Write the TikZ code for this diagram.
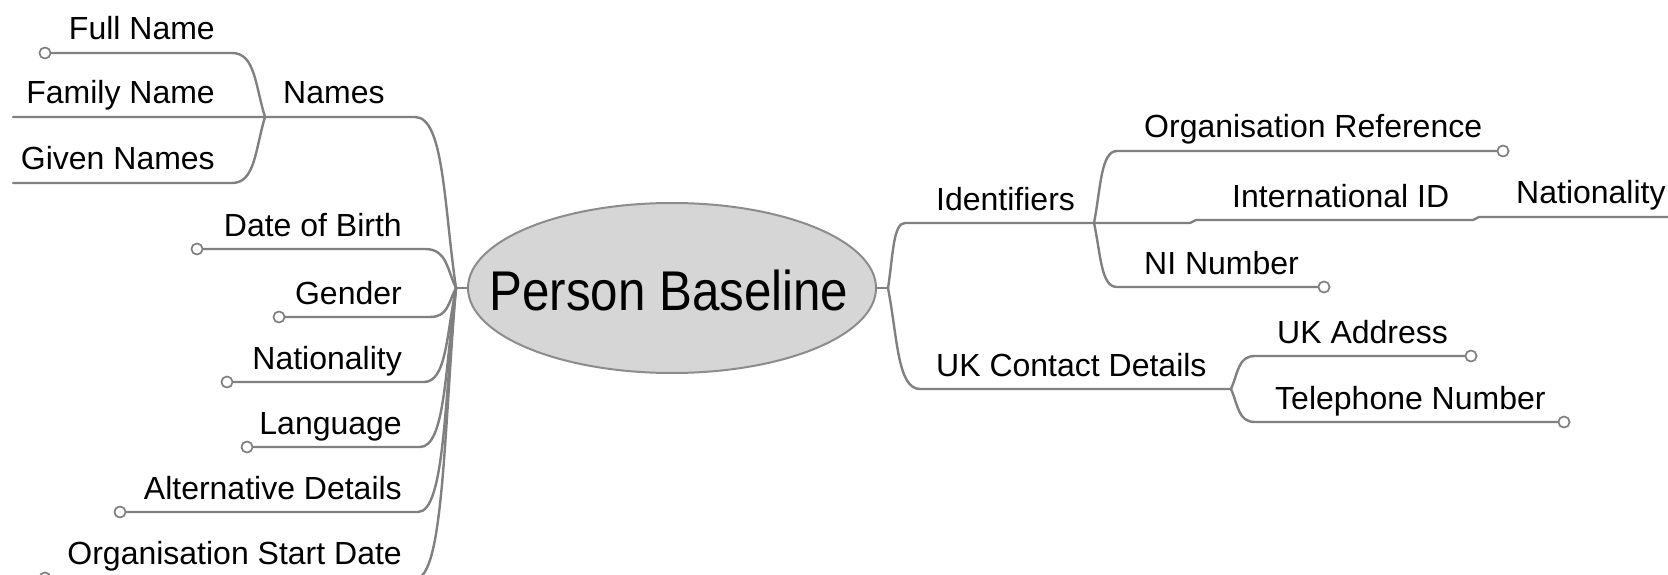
\documentclass[tikz,border=0pt]{standalone}
\usepackage{fontspec}
\setmainfont{Liberation Sans}
\newfontfamily\centerfont[FakeStretch=0.88]{Liberation Sans}
\usetikzlibrary{calc,shapes.geometric}
\definecolor{linegray}{RGB}{128,128,128}
\definecolor{ellfill}{RGB}{214,214,214}
\definecolor{ellline}{RGB}{140,140,140}
\begin{document}
\begin{tikzpicture}[x=1pt,y=-1pt,line cap=round,line join=round,
  conn/.style={draw=linegray,line width=2.4pt},
  lbl/.style={inner sep=0pt,font=\fontsize{32}{38}\selectfont},
  lblL/.style={lbl,anchor=base east},
  lblR/.style={lbl,anchor=base west},
  leafdot/.style={circle,draw=linegray,fill=white,line width=1.6pt,minimum size=11pt,inner sep=0pt},
  centre/.style={ellipse,draw=ellline,fill=ellfill,line width=2pt,minimum width=408pt,minimum height=170pt,inner sep=0pt},
  branch/.style={to path={let \p1=(\tikztostart), \p2=(\tikztotarget) in
     .. controls ({\x1+0.3*(\x2-\x1)},{0.5*(\y1+\y2)}) and ({\x1+0.3*(\x2-\x1)},\y2) .. (\tikztotarget)}}
]
\fill[white] (0,0) rectangle (1668,575);
\useasboundingbox (0,0) rectangle (1668,575);
\clip (0,0) rectangle (1668,575);

% central topic (drawn first, lines join at its edge)
\node[centre] (core) at (672,288) {};

% hubs
\coordinate (hubL) at (456,288);
\coordinate (hubR) at (888,288);

% left side coordinates
\coordinate (namesE) at (415,117);
\coordinate (namesJ) at (265,117);
\coordinate (fullE) at (232,53);
\coordinate (familyS) at (13,117);
\coordinate (givenE) at (232,183);
\coordinate (givenS) at (13,183);
\coordinate (dobE) at (425,249);
\coordinate (genderE) at (430,317);
\coordinate (natE) at (424,382);
\coordinate (langE) at (420,447);
\coordinate (altE) at (418,512);
\coordinate (orgsE) at (415,579);

% right side coordinates
\coordinate (identE) at (905,223);
\coordinate (identJ) at (1094,223);
\coordinate (identK) at (1190,223);
\coordinate (intlS) at (1196,220);
\coordinate (intlE) at (1473,220);
\coordinate (natRS) at (1479,217);
\coordinate (natRE) at (1668,217);
\coordinate (orgrefE) at (1117,151);
\coordinate (niE) at (1117,287);
\coordinate (ukE) at (920,389);
\coordinate (ukJ) at (1231,389);
\coordinate (addrE) at (1255,356);
\coordinate (telE) at (1255,422);

% leaf circles
\node[leafdot] (fullC) at (45,53) {};
\node[leafdot] (dobC) at (197,249) {};
\node[leafdot] (genderC) at (279,317) {};
\node[leafdot] (natC) at (227,382) {};
\node[leafdot] (langC) at (247,447) {};
\node[leafdot] (altC) at (120,512) {};
\node[leafdot] (orgsC) at (45,578) {};
\node[leafdot] (orgrefC) at (1503,151) {};
\node[leafdot] (niC) at (1324,287) {};
\node[leafdot] (addrC) at (1471,356) {};
\node[leafdot] (telC) at (1564,422) {};

% hub stubs
\draw[conn] (core.west) -- (hubL);
\draw[conn] (core.east) -- (hubR);

% connectors (left)
\draw[conn] (hubL) to[branch] (namesE) -- (namesJ) -- (familyS);
\draw[conn] (namesJ) to[branch] (fullE) -- (fullC.east);
\draw[conn] (namesJ) to[branch] (givenE) -- (givenS);
\draw[conn] (hubL) to[branch] (dobE) -- (dobC.east);
\draw[conn] (hubL) to[branch] (genderE) -- (genderC.east);
\draw[conn] (hubL) to[branch] (natE) -- (natC.east);
\draw[conn] (hubL) to[branch] (langE) -- (langC.east);
\draw[conn] (hubL) to[branch] (altE) -- (altC.east);
\draw[conn] (hubL) to[branch] (orgsE) -- (orgsC.east);

% connectors (right)
\draw[conn] (hubR) to[branch] (identE) -- (identJ) -- (identK) -- (intlS) -- (intlE) -- (natRS) -- (natRE);
\draw[conn] (identJ) to[branch] (orgrefE) -- (orgrefC.west);
\draw[conn] (identJ) to[branch] (niE) -- (niC.west);
\draw[conn] (hubR) to[branch] (ukE) -- (ukJ);
\draw[conn] (ukJ) to[branch] (addrE) -- (addrC.west);
\draw[conn] (ukJ) to[branch] (telE) -- (telC.west);

% circles on top
\foreach \c in {fullC,dobC,genderC,natC,langC,altC,orgsC,orgrefC,niC,addrC,telC}
  \draw[draw=linegray,fill=white,line width=1.6pt] (\c) circle (5.5pt);

% central text
\node[inner sep=0pt,anchor=base,font=\centerfont\fontsize{56}{60}\selectfont] (coretext) at (669,310) {Person Baseline};

% labels (left)
\node[lblL] (fullL) at (215,40) {Full Name};
\node[lblL] (familyL) at (215,104) {Family Name};
\node[lblL] (givenL) at (215,170) {Given Names};
\node[lblR] (namesL) at (283,104) {Names};
\node[lblL] (dobL) at (402,236) {Date of Birth};
\node[lblL] (genderL) at (402,304) {Gender};
\node[lblL] (natL) at (402,369) {Nationality};
\node[lblL] (langL) at (402,434) {Language};
\node[lblL] (altL) at (402,499) {Alternative Details};
\node[lblL] (orgsL) at (402,564) {Organisation Start Date};

% labels (right)
\node[lblR] (identL) at (936,210) {Identifiers};
\node[lblR] (orgrefL) at (1144,138) {Organisation Reference};
\node[lblR] (intlL) at (1232,207) {International ID};
\node[lblR] (natRL) at (1516,204) {Nationality};
\node[lblR] (niL) at (1144,274) {NI Number};
\node[lblR] (ukL) at (936,376) {UK Contact Details};
\node[lblR] (addrL) at (1277,343) {UK Address};
\node[lblR] (telL) at (1275,409) {Telephone Number};
\end{tikzpicture}
\end{document}
